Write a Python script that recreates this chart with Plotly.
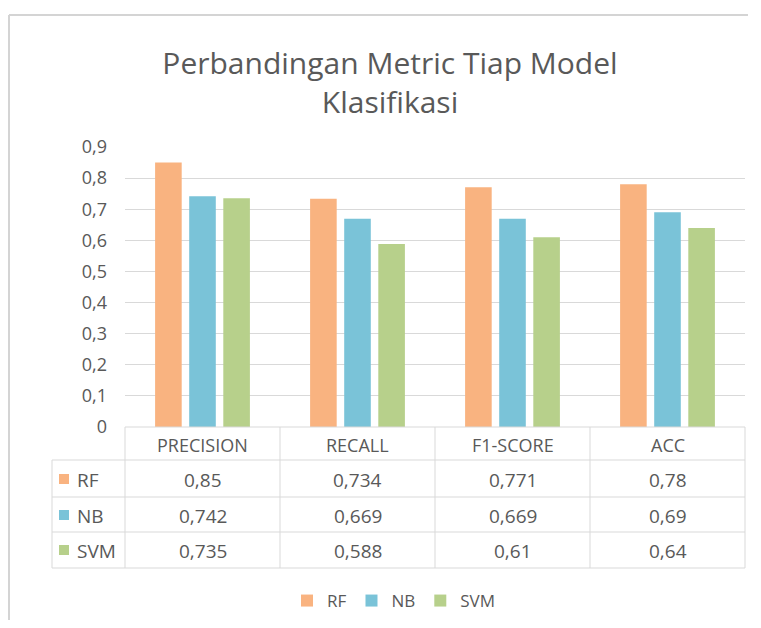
import plotly.graph_objects as go

# data
metrics = ["PRECISION", "RECALL", "F1-SCORE", "ACC"]
models = ["RF", "NB", "SVM"]
rf_vals = [0.85, 0.734, 0.771, 0.78]
nb_vals = [0.742, 0.669, 0.669, 0.69]
svm_vals = [0.735, 0.588, 0.61, 0.64]
y_ticks = [0, 0.1, 0.2, 0.3, 0.4, 0.5, 0.6, 0.7, 0.8, 0.9]
y_tick_labels = ["0", "0,1", "0,2", "0,3", "0,4", "0,5", "0,6", "0,7", "0,8", "0,9"]

colors = ["#F9B380", "#7AC3D8", "#B7D08B"]
grid = "#D9D9D9"
text_col = "#595959"
font = "Open Sans"

# page body has an 8px margin, so work in screen pixels and shift
OFF = 8
W, H = 761 - 2 * OFF - 4, 628 - 2 * OFF
PL, PR, PT, PB = 125, 745, 147, 427   # plot area on screen
L, R, T, B = PL - OFF, W - (PR - OFF), PT - OFF, H - (PB - OFF)
plot_h = PB - PT
plot_w = PR - PL


def py(ypix):
    # screen row -> paper y
    return (PB - ypix) / plot_h


def px(xpix):
    return (xpix - PL) / plot_w


fig = go.Figure()
for name, vals, c in zip(models, [rf_vals, nb_vals, svm_vals], colors):
    fig.add_trace(go.Bar(x=metrics, y=vals, name=name, marker_color=c,
                         marker_line_width=0))

shapes = []
# outer chart border (only left/top edges are in view), kept inside the figure
border = dict(color="#D4D4D4", width=2)
right_edge = W + OFF - 1
bottom_edge = H + OFF
shapes.append(dict(type="line", xref="paper", yref="paper",
                   x0=px(9), x1=px(right_edge), y0=py(15), y1=py(15), line=border))
shapes.append(dict(type="line", xref="paper", yref="paper",
                   x0=px(9), x1=px(9), y0=py(15), y1=py(bottom_edge), line=border))

# data table grid
row_lines = [460, 497, 532, 568]
col_lines = [125, 280, 435, 590, 745]
shapes.append(dict(type="line", xref="paper", yref="paper",
                   x0=px(125), x1=px(745), y0=py(427), y1=py(427),
                   line=dict(color=grid, width=1)))
for yl in row_lines:
    shapes.append(dict(type="line", xref="paper", yref="paper",
                       x0=px(52), x1=px(745), y0=py(yl), y1=py(yl),
                       line=dict(color=grid, width=1)))
for xl in col_lines:
    shapes.append(dict(type="line", xref="paper", yref="paper",
                       x0=px(xl), x1=px(xl), y0=py(427), y1=py(568),
                       line=dict(color=grid, width=1)))
shapes.append(dict(type="line", xref="paper", yref="paper",
                   x0=px(52), x1=px(52), y0=py(460), y1=py(568),
                   line=dict(color=grid, width=1)))

annotations = []
# header row
for m in metrics:
    annotations.append(dict(x=m, xref="x", y=py(445), yref="paper",
                            yanchor="middle", text=m, showarrow=False,
                            font=dict(size=18, color=text_col, family=font)))
# value rows
row_centers = [479, 515, 550]
for name, vals, c, yc in zip(models, [rf_vals, nb_vals, svm_vals], colors, row_centers):
    shapes.append(dict(type="rect", xref="paper", yref="paper",
                       x0=px(59), x1=px(69), y0=py(yc - 5), y1=py(yc + 5),
                       fillcolor=c, line=dict(width=0)))
    annotations.append(dict(x=px(75), xref="paper", y=py(yc + 1), yref="paper",
                            yanchor="middle", xanchor="left",
                            text=name, showarrow=False,
                            font=dict(size=19, color=text_col, family=font)))
    for m, v in zip(metrics, vals):
        annotations.append(dict(x=m, xref="x", y=py(yc + 1), yref="paper",
                                yanchor="middle",
                                text=str(v).replace(".", ","), showarrow=False,
                                font=dict(size=19, color=text_col, family=font)))

fig.update_layout(
    width=W, height=H,
    margin=dict(l=L, r=R, t=T, b=B, autoexpand=False),
    paper_bgcolor="white", plot_bgcolor="white",
    title=dict(text="Perbandingan Metric Tiap Model<br>Klasifikasi",
               x=(390 - OFF) / W, xanchor="center",
               y=1 - (74 - OFF) / H, yanchor="middle",
               font=dict(size=30, color=text_col, family=font)),
    barmode="group", bargap=0.34, bargroupgap=0.22,
    showlegend=True,
    legend=dict(orientation="h", x=px(394), xanchor="center",
                yref="container", y=1 - (601 - OFF) / H, yanchor="middle",
                font=dict(size=17, color=text_col, family=font),
                itemwidth=30, tracegroupgap=0),
    shapes=shapes,
    annotations=annotations,
    separators=", ",
)
fig.update_xaxes(showticklabels=False, showgrid=False, zeroline=False,
                 showline=False, ticks="")
fig.update_yaxes(range=[0, 0.9], tickvals=y_ticks, ticktext=y_tick_labels,
                 showgrid=True, gridcolor=grid, gridwidth=1, zeroline=False,
                 showline=False, ticks="", ticklabelstandoff=17,
                 tickfont=dict(size=18, color=text_col, family=font))

fig.write_html("out.html")
